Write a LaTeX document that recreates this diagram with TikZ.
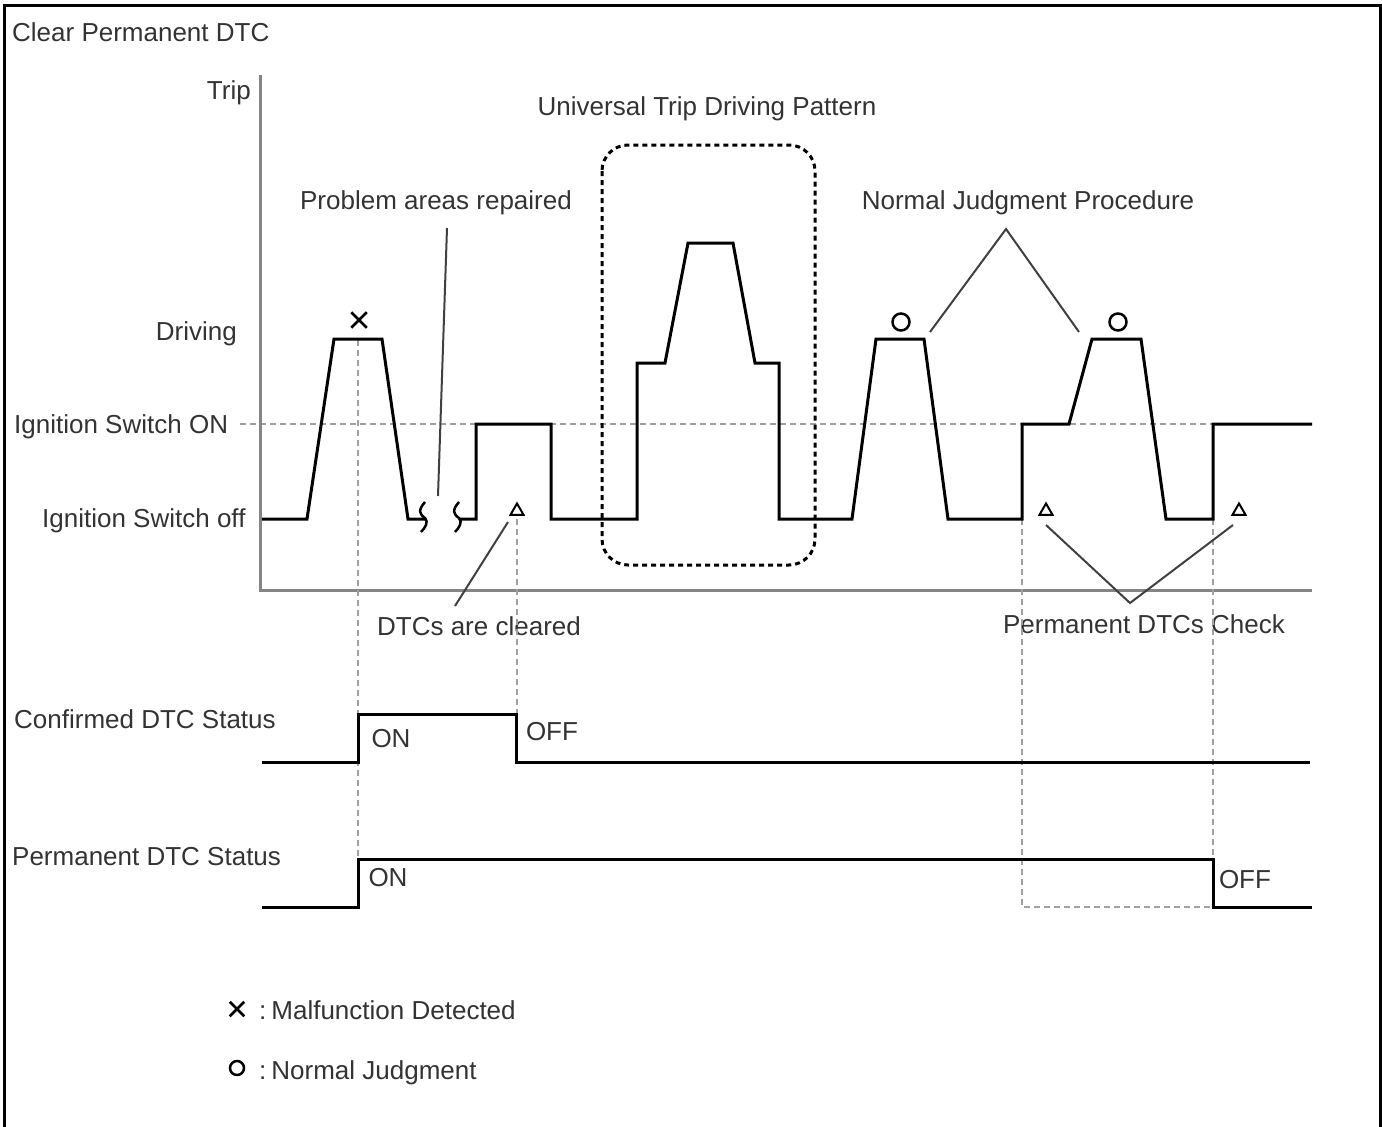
\documentclass[tikz,border=0pt]{standalone}
\usepackage{fontspec}
\setmainfont{Liberation Sans}
\usetikzlibrary{positioning,shapes.geometric,shapes.misc,calc}
\definecolor{txtgray}{HTML}{333333}
\definecolor{axisgray}{HTML}{858585}
\definecolor{guidegray}{HTML}{A0A0A0}
\definecolor{leadgray}{HTML}{404040}

\begin{document}
\begin{tikzpicture}[
    x=1pt, y=-1pt,
    every node/.style={font=\fontsize{26}{30}\selectfont, text=txtgray, inner sep=0pt,
        text height=18.5pt, text depth=0pt},
    lbl/.style={anchor=west},
    trace/.style={line width=3pt, line join=miter},
    guide/.style={guidegray, line width=2pt, dash pattern=on 6pt off 4pt},
    leader/.style={leadgray, line width=2pt},
    fault/.style={cross out, draw=black, line width=2.5pt, minimum size=13pt, text height=, text depth=},
    judge/.style={circle, draw=black, line width=2.5pt, minimum size=17pt, text height=, text depth=},
    checkmark/.style={regular polygon, regular polygon sides=3, draw=black, line width=2pt,
        minimum size=15pt, text height=, text depth=},
    gapmark/.pic={\draw[line width=2.5pt] (2,-17) .. controls (-5,-9) and (-4,-5) .. (2,-1)
        .. controls (6,3) and (2,9) .. (-2,13);}
]
    \useasboundingbox (0,0) rectangle (1382,1127);
    % frame
    \draw[line width=3pt] (4,1135) -- (4,5) -- (1380,5) -- (1380,1135);

    % Define nodes
    \node[lbl] (title) at (12,32) {Clear Permanent DTC};
    \node[anchor=east] (trip) at (251,90) {Trip};
    \node[anchor=east] (driving) at (237,331) {Driving};
    \node[lbl] (ignon) at (14,424) {Ignition Switch ON};
    \node[lbl] (ignoff) at (42,518) {Ignition Switch off};
    \node (utdp) at (707,106) {Universal Trip Driving Pattern};
    \node (repaired) at (436,200) {Problem areas repaired};
    \node (njp) at (1028,200) {Normal Judgment Procedure};
    \node (cleared) at (479,626) {DTCs are cleared};
    \node (pdcheck) at (1144,624) {Permanent DTCs Check};
    \node[lbl] (confirmed) at (14,719) {Confirmed DTC Status};
    \node[lbl] (permanent) at (12,856) {Permanent DTC Status};
    \node (confon) at (391,738) {ON};
    \node (confoff) at (552,731) {OFF};
    \node (permon) at (388,877) {ON};
    \node (permoff) at (1245,879) {OFF};

    % axes and guides
    \draw[guide] (240,424) -- (1312,424);
    \draw[axisgray, line width=3pt] (260,75) -- (260,590) -- (1312,590);
    \draw[guide] (358,340) -- (358,907);
    \draw[guide] (517,519) -- (517,762);
    \draw[guide] (1022,519) -- (1022,907) -- (1213,907);
    \draw[guide] (1213,519) -- (1213,859);

    % universal trip box
    \draw[line width=3pt, dash pattern=on 5pt off 4pt, rounded corners=26pt]
        (602,145) rectangle (815,565);

    % trip trace
    \draw[trace] (262,519) -- (307,519) -- (334,339) -- (382,339) -- (408,519) -- (425,519);
    \pic at (423,519) {gapmark};
    \pic at (457,519) {gapmark};
    \draw[trace] (459,519) -- (476,519) -- (476,424) -- (551,424) -- (551,519)
        -- (637,519) -- (637,363) -- (665,363) -- (688,243) -- (733,243) -- (755,363)
        -- (779,363) -- (779,519) -- (852,519) -- (876,339) -- (924,339) -- (948,519)
        -- (1022,519) -- (1022,424) -- (1069,424) -- (1092,339) -- (1141,339) -- (1166,519)
        -- (1213,519) -- (1213,424) -- (1312,424);

    % status traces
    \draw[trace] (262,762) -- (358,762) -- (358,714) -- (516,714) -- (516,762) -- (1310,762);
    \draw[trace] (262,907) -- (358,907) -- (358,859) -- (1213,859) -- (1213,907) -- (1312,907);

    % marks
    \node[fault] (faultA) at (359,320) {};
    \node[judge] (judgeA) at (901,322) {};
    \node[judge] (judgeB) at (1118,322) {};
    \node[checkmark] (checkA) at (517,511) {};
    \node[checkmark] (checkB) at (1046,511) {};
    \node[checkmark] (checkC) at (1239,511) {};

    % leaders
    \coordinate (repairtop) at (447,228);
    \coordinate (repairtip) at (438,496);
    \coordinate (clearfoot) at (455,606);
    \coordinate (cleartip) at (508,522);
    \coordinate (njapex) at (1006,229);
    \coordinate (njleft) at (930,332);
    \coordinate (njright) at (1079,332);
    \coordinate (pdapex) at (1130,603);
    \coordinate (pdleft) at (1046,525);
    \coordinate (pdright) at (1233,525);
    \draw[leader] (repairtop) -- (repairtip);
    \draw[leader] (clearfoot) -- (cleartip);
    \draw[leader] (njleft) -- (njapex) -- (njright);
    \draw[leader] (pdleft) -- (pdapex) -- (pdright);

    % legend
    \node[fault, minimum size=12pt] (keyfault) at (237,1009) {};
    \node[lbl] (keyfaulttxt) at (259,1010) {:\hspace{5pt}Malfunction Detected};
    \node[circle, draw=black, line width=2.5pt, minimum size=14pt, text height=, text depth=]
        (keyjudge) at (237,1068) {};
    \node[lbl] (keyjudgetxt) at (259,1070) {:\hspace{5pt}Normal Judgment};
\end{tikzpicture}
\end{document}
